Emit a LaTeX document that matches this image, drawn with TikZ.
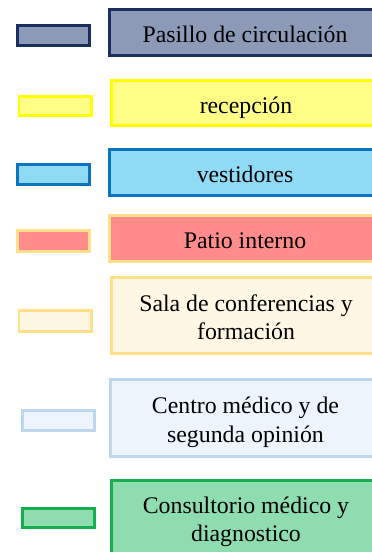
\documentclass[tikz,border=0pt]{standalone}
\usepackage{fontspec}
\setmainfont{Liberation Serif}
\usetikzlibrary{positioning}
\definecolor{pasilloF}{HTML}{8D9AB7}
\definecolor{pasilloB}{HTML}{1B2F5E}
\definecolor{recepF}{HTML}{FFFF88}
\definecolor{recepB}{HTML}{FFFF00}
\definecolor{vestF}{HTML}{8FDBF6}
\definecolor{vestB}{HTML}{0B74C0}
\definecolor{patioF}{HTML}{FF8B8B}
\definecolor{oroB}{HTML}{FFE08A}
\definecolor{salaF}{HTML}{FEF7E4}
\definecolor{centroF}{HTML}{EEF4FC}
\definecolor{centroB}{HTML}{BDD7EE}
\definecolor{consF}{HTML}{8EDCB0}
\definecolor{consB}{HTML}{14B050}
\begin{document}
\begin{tikzpicture}[x=1pt,y=1pt,
  caja/.style={draw,line width=2.7pt,inner sep=0pt,align=center,
               text height=21pt,text depth=1pt,font=\fontsize{23.8}{28.5}\selectfont},
  doble/.style={caja,text height=49pt},
  muestra/.style={draw,line width=2.7pt,inner sep=0pt,minimum width=72.3pt,minimum height=20.3pt}]

\clip (0,0) rectangle (372,-552);
\fill[white] (0,0) rectangle (372,-552);

% cajas de la leyenda
\node[caja,fill=pasilloF,draw=pasilloB,minimum width=271.3pt,minimum height=46.3pt] (pasillo) at (245,-32.5) {Pasillo de circulaci\'on};
\node[caja,fill=recepF,draw=recepB,minimum width=269.3pt,minimum height=45.3pt] (recepcion) at (246,-103) {recepci\'on};
\node[caja,fill=vestF,draw=vestB,minimum width=271.3pt,minimum height=46.3pt] (vestidores) at (245,-172.5) {vestidores};
\node[caja,fill=patioF,draw=oroB,minimum width=271.3pt,minimum height=46.3pt] (patio) at (245,-238.5) {Patio interno};
\node[doble,fill=salaF,draw=oroB,minimum width=269.3pt,minimum height=76.3pt] (sala) at (246,-315.5) {Sala de conferencias y\\formaci\'on};
\node[doble,fill=centroF,draw=centroB,minimum width=270.3pt,minimum height=77.3pt] (centro) at (245.5,-418) {Centro m\'edico y de\\segunda opini\'on};
\node[doble,fill=consF,draw=consB,minimum width=269.3pt,minimum height=74.3pt] (consultorio) at (246,-517.5) {Consultorio m\'edico y\\diagnostico};

% muestras de color
\node[muestra,fill=pasilloF,draw=pasilloB] (pasilloM) at (53.5,-35.5) {};
\node[muestra,fill=recepF,draw=recepB,minimum height=19.3pt] (recepcionM) at (55,-106) {};
\node[muestra,fill=vestF,draw=vestB] (vestidoresM) at (53.5,-174.5) {};
\node[muestra,fill=patioF,draw=oroB,minimum height=21.3pt] (patioM) at (53.5,-241) {};
\node[muestra,fill=salaF,draw=oroB,minimum height=21.3pt] (salaM) at (55,-321) {};
\node[muestra,fill=centroF,draw=centroB] (centroM) at (58.5,-420.5) {};
\node[muestra,fill=consF,draw=consB,minimum height=19.3pt] (consultorioM) at (58.5,-518) {};

\end{tikzpicture}
\end{document}
